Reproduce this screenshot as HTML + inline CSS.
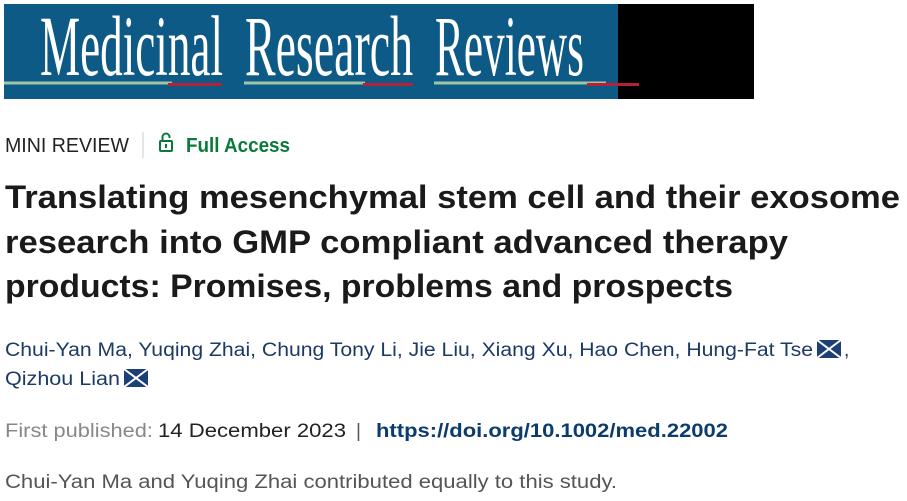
<!DOCTYPE html>
<html><head><meta charset="utf-8"><style>
html,body{margin:0;padding:0;background:#fff;width:907px;height:501px;overflow:hidden}
svg{display:block}
text{font-family:"Liberation Sans",sans-serif}
</style></head><body>
<svg width="907" height="501" viewBox="0 0 907 501" xmlns="http://www.w3.org/2000/svg">
<rect x="4" y="4" width="750" height="95" fill="#0c5a85"/>
<rect x="618" y="4" width="136" height="95" fill="#000"/>
<g fill="#fff" font-size="86">
<text x="40" y="75" textLength="183" lengthAdjust="spacingAndGlyphs" style="font-family:'Liberation Serif',serif">Medicinal</text>
<text x="245" y="75" textLength="168" lengthAdjust="spacingAndGlyphs" style="font-family:'Liberation Serif',serif">Research</text>
<text x="435" y="75" textLength="149" lengthAdjust="spacingAndGlyphs" style="font-family:'Liberation Serif',serif">Reviews</text>
</g>
<g stroke-width="3">
<line x1="4" y1="83" x2="172" y2="83" stroke="#9fc4a6"/><line x1="168" y1="84.5" x2="222" y2="84.5" stroke="#b52238"/>
<line x1="244" y1="83" x2="365" y2="83" stroke="#9fc4a6"/><line x1="363" y1="84.5" x2="413" y2="84.5" stroke="#b52238"/>
<line x1="434" y1="83" x2="606" y2="83" stroke="#9fc4a6"/><line x1="587" y1="84.5" x2="639" y2="84.5" stroke="#b52238"/>
</g>
<text x="5" y="152" font-size="20" fill="#222" textLength="124" lengthAdjust="spacingAndGlyphs">MINI REVIEW</text>
<line x1="143" y1="132" x2="143" y2="158" stroke="#ccc" stroke-width="1"/>
<g fill="none" stroke="#0a7a3b" stroke-width="2">
<rect x="160" y="141" width="12" height="10" rx="1"/>
<path d="M162.5 141 v-4 a3.5 3.5 0 0 1 7 0 v1"/>
</g>
<rect x="165" y="144" width="2" height="4" fill="#0a7a3b"/>
<text x="186" y="152" font-size="20" font-weight="bold" fill="#0a7a3b" textLength="104" lengthAdjust="spacingAndGlyphs">Full Access</text>
<g font-size="32" font-weight="bold" fill="#1a1a1a">
<text x="5" y="208" textLength="895" lengthAdjust="spacingAndGlyphs">Translating mesenchymal stem cell and their exosome</text>
<text x="5" y="253" textLength="783" lengthAdjust="spacingAndGlyphs">research into GMP compliant advanced therapy</text>
<text x="5" y="297" textLength="728" lengthAdjust="spacingAndGlyphs">products: Promises, problems and prospects</text>
</g>
<g font-size="19" fill="#1c3a66">
<text x="5" y="356" textLength="808" lengthAdjust="spacingAndGlyphs">Chui-Yan Ma, Yuqing Zhai, Chung Tony Li, Jie Liu, Xiang Xu, Hao Chen, Hung-Fat Tse</text>
<text x="844" y="356">,</text>
<text x="5" y="385" textLength="115" lengthAdjust="spacingAndGlyphs">Qizhou Lian</text>
</g>
<g>
<rect x="817" y="340" width="24" height="18" fill="#1c3f78"/>
<path d="M817 340 L841 358 M841 340 L817 358" stroke="#fff" stroke-width="2"/>
<rect x="124" y="369" width="24" height="18" fill="#1c3f78"/>
<path d="M124 369 L148 387 M148 369 L124 387" stroke="#fff" stroke-width="2"/>
</g>
<text x="5" y="437" font-size="19" fill="#888" textLength="148" lengthAdjust="spacingAndGlyphs">First published:</text>
<text x="158" y="437" font-size="19" fill="#222" textLength="188" lengthAdjust="spacingAndGlyphs">14 December 2023</text>
<text x="356" y="437" font-size="19" fill="#555">|</text>
<text x="376" y="437" font-size="19" font-weight="bold" fill="#0c3c6e" textLength="352" lengthAdjust="spacingAndGlyphs">https://doi.org/10.1002/med.22002</text>
<text x="5" y="488" font-size="19" fill="#555" textLength="612" lengthAdjust="spacingAndGlyphs">Chui-Yan Ma and Yuqing Zhai contributed equally to this study.</text>
</svg>
</body></html>
